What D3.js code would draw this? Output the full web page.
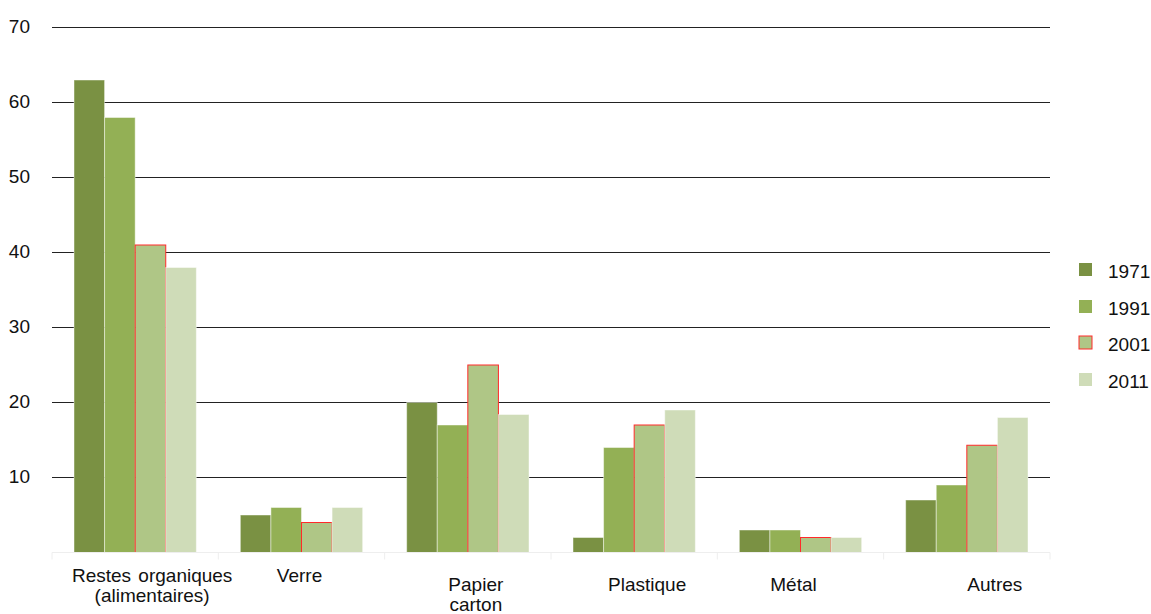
<!DOCTYPE html>
<html>
<head>
<meta charset="utf-8">
<script src="https://cdn.jsdelivr.net/npm/d3@7"></script>
<style>
  body { margin: 0; background: #fff; }
  text { font-family: "Liberation Sans", Arial, sans-serif; fill: #111; }
</style>
</head>
<body>
<svg width="1151" height="614"></svg>
<script>
var categories = ["Restes organiques (alimentaires)", "Verre", "Papier carton", "Plastique", "Métal", "Autres"];
var years = ["1971", "1991", "2001", "2011"];
var v1971 = [63, 5, 20, 2, 3, 7];
var v1991 = [58, 6, 17, 14, 3, 9];
var v2001 = [41, 4, 25, 17, 2, 14.3];
var v2011 = [38, 6, 18.4, 19, 2, 18];
var yTicks = [10, 20, 30, 40, 50, 60, 70];

var series = [v1971, v1991, v2001, v2011];
var colors = ["#7a9143", "#93b055", "#afc686", "#cfdcb8"];

var svg = d3.select("svg");
var plotLeft = 52, plotRight = 1050, plotTop = 27.5, plotBottom = 552.5;

var x = d3.scaleBand().domain(categories).range([plotLeft, plotRight]);
var xs = d3.scaleBand().domain(years).range([22, x.bandwidth() - 22]);
var y = d3.scaleLinear().domain([0, 70]).range([plotBottom, plotTop]);

// gridlines
svg.append("g").selectAll("line")
  .data(yTicks).enter().append("line")
  .attr("x1", plotLeft).attr("x2", plotRight)
  .attr("y1", function(d) { return y(d); })
  .attr("y2", function(d) { return y(d); })
  .attr("stroke", "#222").attr("stroke-width", 1);

svg.append("g").selectAll("text")
  .data(yTicks).enter().append("text")
  .attr("x", 30).attr("y", function(d) { return y(d) + 5; })
  .attr("text-anchor", "end").attr("font-size", 19)
  .text(function(d) { return d; });

// bars
var table = [];
categories.forEach(function(c, i) {
  years.forEach(function(yr, j) {
    table.push({cat: c, year: yr, idx: j, value: series[j][i]});
  });
});

svg.append("g").selectAll("rect")
  .data(table).enter().append("rect")
  .attr("x", function(d) { return x(d.cat) + xs(d.year); })
  .attr("y", function(d) { return y(d.value); })
  .attr("width", xs.bandwidth())
  .attr("height", function(d) { return y(0) - y(d.value); })
  .attr("fill", function(d) { return colors[d.idx]; })
  .attr("stroke", function(d) { return d.idx == 2 ? "#ff2a2a" : "rgba(255,255,255,0.45)"; })
  .attr("stroke-width", 1);

// x axis (light)
svg.append("line")
  .attr("x1", plotLeft).attr("x2", plotRight).attr("y1", plotBottom).attr("y2", plotBottom)
  .attr("stroke", "#eeeeee");
svg.append("g").selectAll("line")
  .data(categories.concat([null])).enter().append("line")
  .attr("x1", function(d) { return d ? x(d) : plotRight; })
  .attr("x2", function(d) { return d ? x(d) : plotRight; })
  .attr("y1", plotBottom).attr("y2", plotBottom + 7)
  .attr("stroke", "#eeeeee");

// category labels
var labelShift = [17, -2, 8, 13, -7, 28];
var labelY = [582, 582, 591, 591, 591, 591];
var labelLines = [["Restes organiques", "(alimentaires)"], ["Verre"], ["Papier", "carton"], ["Plastique"], ["Métal"], ["Autres"]];
var lab = svg.append("g").selectAll("text")
  .data(categories).enter().append("text")
  .attr("text-anchor", "middle").attr("font-size", 19)
  .attr("x", function(d, i) { return x(d) + x.bandwidth() / 2 + labelShift[i]; })
  .attr("y", function(d, i) { return labelY[i]; });
lab.each(function(d, i) {
  var t = d3.select(this);
  labelLines[i].forEach(function(l, k) {
    t.append("tspan").attr("x", t.attr("x")).attr("dy", k ? 20 : 0)
      .attr("word-spacing", i == 0 && k == 0 ? 2 : 0).text(l);
  });
});

// legend
var legend = svg.append("g").selectAll("g")
  .data(years).enter().append("g")
  .attr("transform", function(d, i) { return "translate(1079," + [263, 300, 336, 373][i] + ")"; });
legend.append("rect")
  .attr("width", 13).attr("height", 13)
  .attr("fill", function(d, i) { return colors[i]; })
  .attr("stroke", function(d, i) { return i == 2 ? "#ff2a2a" : "none"; });
legend.append("text")
  .attr("x", 29).attr("y", 15).attr("font-size", 19)
  .text(function(d) { return d; });
</script>
</body>
</html>
